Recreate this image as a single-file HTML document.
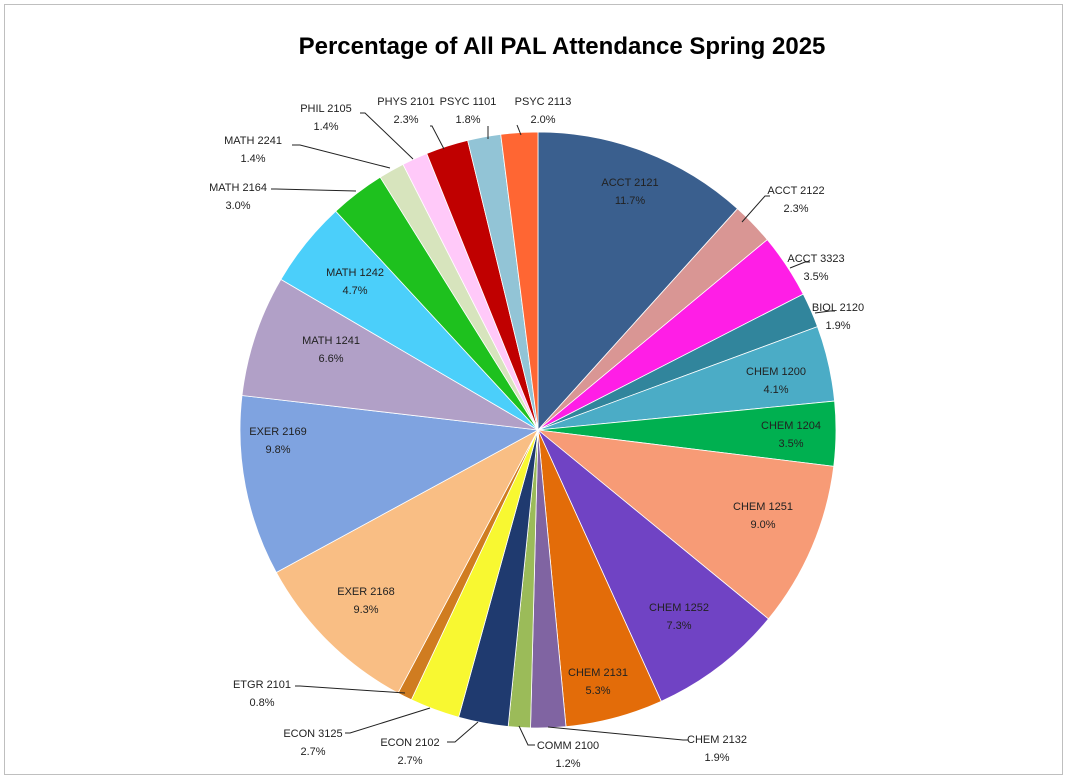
<!DOCTYPE html>
<html><head><meta charset="utf-8"><style>
html,body{margin:0;padding:0;background:#fff;}
svg{display:block;}
text{font-family:"Liberation Sans",Calibri,sans-serif;font-size:11px;fill:#222;}
</style></head><body>
<svg id="s" width="1068" height="780" viewBox="0 0 1068 780" xmlns="http://www.w3.org/2000/svg">
<rect x="0" y="0" width="1068" height="780" fill="#fff"/>
<rect x="4.5" y="4.5" width="1058" height="770" fill="none" stroke="#bfbfbf" stroke-width="1"/>
<text x="562" y="54" text-anchor="middle" style="font-size:24px;font-weight:bold;fill:#000">Percentage of All PAL Attendance Spring 2025</text>
<g id="pie"></g>
<g stroke="#222" stroke-width="1" fill="none">
<polyline points="742,222 765,196 770,196"/>
<polyline points="790,268 805,262 810,262"/>
<polyline points="815,313 830,311 835,311"/>
<polyline points="548,727 683,740 688,740"/>
<polyline points="519,726 528,745 535,745"/>
<polyline points="478,722 455,742 447,742"/>
<polyline points="430,708 350,733 345,733"/>
<polyline points="405,693 300,686 295,686"/>
<polyline points="356,191 276,189 271,189"/>
<polyline points="390,168 300,145 292,145"/>
<polyline points="413,159 365,113 360,113"/>
<polyline points="444,149 432,126 430,126"/>
<polyline points="488,139 488,126"/>
<polyline points="521,135 517,125"/>
</g>
<g text-anchor="middle">
<text x="630" y="186">ACCT 2121</text><text x="630" y="204">11.7%</text>
<text x="796" y="194">ACCT 2122</text><text x="796" y="212">2.3%</text>
<text x="816" y="262">ACCT 3323</text><text x="816" y="280">3.5%</text>
<text x="838" y="311">BIOL 2120</text><text x="838" y="329">1.9%</text>
<text x="776" y="375">CHEM 1200</text><text x="776" y="393">4.1%</text>
<text x="791" y="429">CHEM 1204</text><text x="791" y="447">3.5%</text>
<text x="763" y="510">CHEM 1251</text><text x="763" y="528">9.0%</text>
<text x="679" y="611">CHEM 1252</text><text x="679" y="629">7.3%</text>
<text x="598" y="676">CHEM 2131</text><text x="598" y="694">5.3%</text>
<text x="717" y="743">CHEM 2132</text><text x="717" y="761">1.9%</text>
<text x="568" y="749">COMM 2100</text><text x="568" y="767">1.2%</text>
<text x="410" y="746">ECON 2102</text><text x="410" y="764">2.7%</text>
<text x="313" y="737">ECON 3125</text><text x="313" y="755">2.7%</text>
<text x="262" y="688">ETGR 2101</text><text x="262" y="706">0.8%</text>
<text x="366" y="595">EXER 2168</text><text x="366" y="613">9.3%</text>
<text x="278" y="435">EXER 2169</text><text x="278" y="453">9.8%</text>
<text x="331" y="344">MATH 1241</text><text x="331" y="362">6.6%</text>
<text x="355" y="276">MATH 1242</text><text x="355" y="294">4.7%</text>
<text x="238" y="191">MATH 2164</text><text x="238" y="209">3.0%</text>
<text x="253" y="144">MATH 2241</text><text x="253" y="162">1.4%</text>
<text x="326" y="112">PHIL 2105</text><text x="326" y="130">1.4%</text>
<text x="406" y="105">PHYS 2101</text><text x="406" y="123">2.3%</text>
<text x="468" y="105">PSYC 1101</text><text x="468" y="123">1.8%</text>
<text x="543" y="105">PSYC 2113</text><text x="543" y="123">2.0%</text>
</g>
</svg>
<script>
var d=[[11.7,"#3A5F8E"],[2.3,"#D99694"],[3.5,"#FF1EE6"],[1.9,"#31859C"],[4.1,"#4BACC6"],[3.5,"#00B050"],[9.0,"#F79B76"],[7.3,"#7043C4"],[5.3,"#E36C09"],[1.9,"#8064A2"],[1.2,"#9BBB59"],[2.7,"#1F3A6F"],[2.7,"#F8F831"],[0.8,"#D07C20"],[9.3,"#F9BE84"],[9.8,"#7FA3E0"],[6.6,"#B1A0C7"],[4.7,"#4BCFFA"],[3.0,"#1EC11E"],[1.4,"#D7E4BD"],[1.4,"#FFC9F9"],[2.3,"#C00000"],[1.8,"#92C4D6"],[2.0,"#FF6633"]];
var tot=0;d.forEach(function(x){tot+=x[0];});
var cx=538,cy=430,r=298,a=0,g=document.getElementById("pie"),h="";
d.forEach(function(x){var b=a+x[0]/tot*2*Math.PI;
var x1=cx+r*Math.sin(a),y1=cy-r*Math.cos(a),x2=cx+r*Math.sin(b),y2=cy-r*Math.cos(b);
h+='<path d="M'+cx+','+cy+'L'+x1.toFixed(2)+','+y1.toFixed(2)+'A'+r+','+r+' 0 '+((b-a)>Math.PI?1:0)+' 1 '+x2.toFixed(2)+','+y2.toFixed(2)+'Z" fill="'+x[1]+'" stroke="#fff" stroke-width="0.8"/>';a=b;});
g.innerHTML=h;
</script>
</body></html>
